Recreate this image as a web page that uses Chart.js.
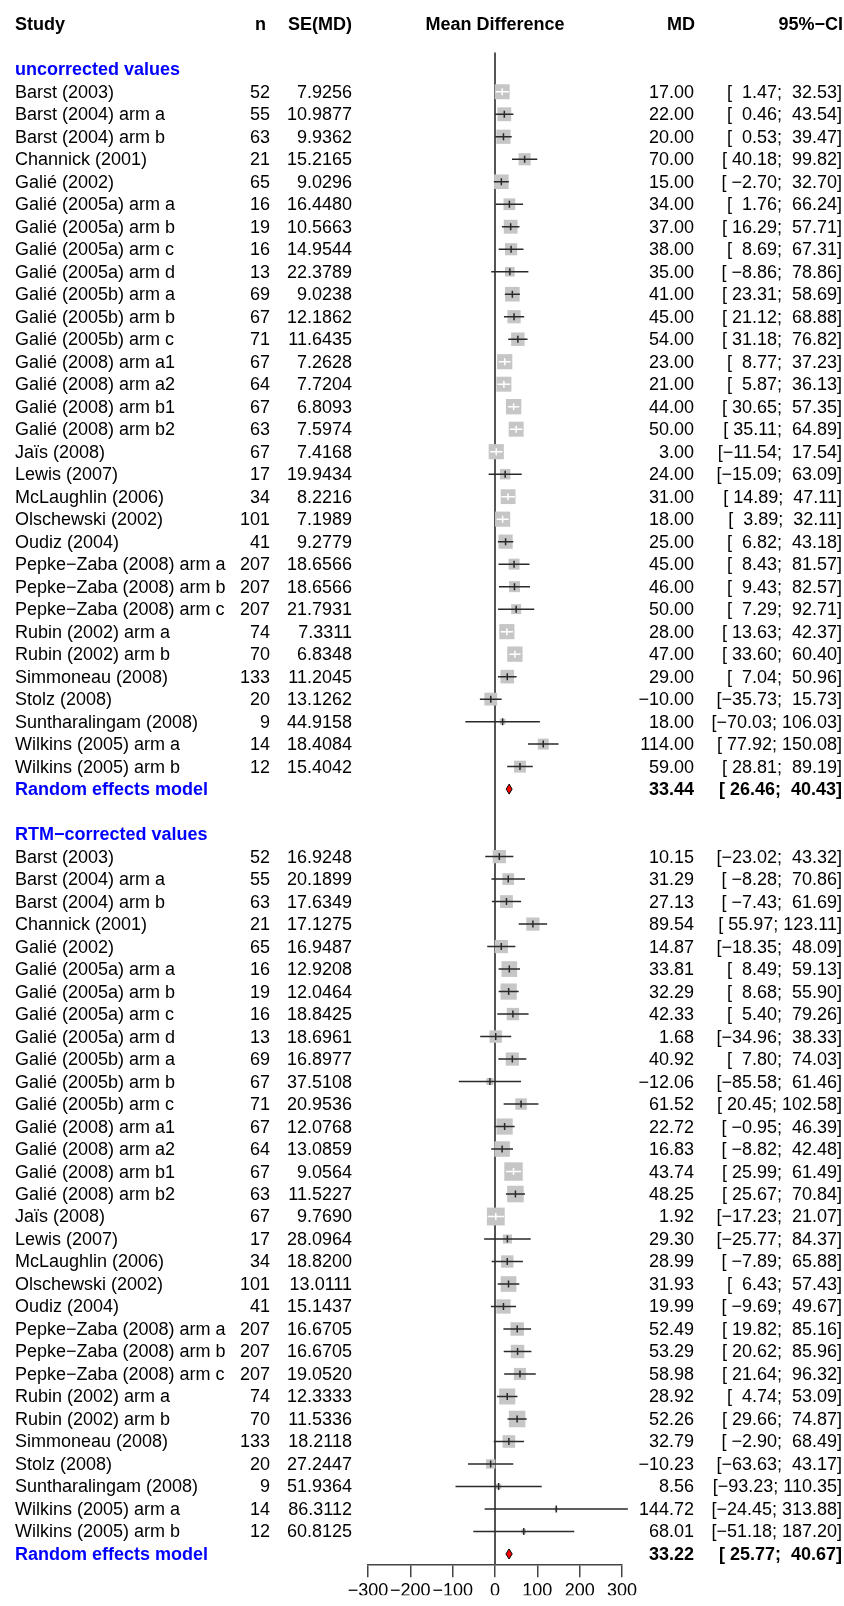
<!DOCTYPE html>
<html>
<head>
<meta charset="utf-8">
<script src="https://cdn.jsdelivr.net/npm/chart.js@4.4.1/dist/chart.umd.min.js"></script>
<style>
  html, body { margin: 0; padding: 0; background: #fff; overflow: hidden; }
  #wrap { width: 844px; height: 1606px; }
  canvas { display: block; }
</style>
</head>
<body>
<div id="wrap"><canvas id="chart" width="844" height="1606"></canvas></div>
<script>
// Forest plot: mean difference per study, uncorrected and RTM-corrected values

const studies = [
  'Barst (2003)', 'Barst (2004) arm a', 'Barst (2004) arm b', 'Channick (2001)',
  'Galié (2002)', 'Galié (2005a) arm a', 'Galié (2005a) arm b', 'Galié (2005a) arm c',
  'Galié (2005a) arm d', 'Galié (2005b) arm a', 'Galié (2005b) arm b', 'Galié (2005b) arm c',
  'Galié (2008) arm a1', 'Galié (2008) arm a2', 'Galié (2008) arm b1', 'Galié (2008) arm b2',
  'Jaïs (2008)', 'Lewis (2007)', 'McLaughlin (2006)', 'Olschewski (2002)', 'Oudiz (2004)',
  'Pepke\u2212Zaba (2008) arm a', 'Pepke\u2212Zaba (2008) arm b', 'Pepke\u2212Zaba (2008) arm c',
  'Rubin (2002) arm a', 'Rubin (2002) arm b', 'Simmoneau (2008)', 'Stolz (2008)',
  'Suntharalingam (2008)', 'Wilkins (2005) arm a', 'Wilkins (2005) arm b'
];
const nPatients = [52, 55, 63, 21, 65, 16, 19, 16, 13, 69, 67, 71, 67, 64, 67, 63, 67, 17, 34, 101, 41,
  207, 207, 207, 74, 70, 133, 20, 9, 14, 12];

// uncorrected values
const seUncorr = [7.9256, 10.9877, 9.9362, 15.2165, 9.0296, 16.4480, 10.5663, 14.9544, 22.3789, 9.0238,
  12.1862, 11.6435, 7.2628, 7.7204, 6.8093, 7.5974, 7.4168, 19.9434, 8.2216, 7.1989, 9.2779,
  18.6566, 18.6566, 21.7931, 7.3311, 6.8348, 11.2045, 13.1262, 44.9158, 18.4084, 15.4042];
const mdUncorr = [17, 22, 20, 70, 15, 34, 37, 38, 35, 41, 45, 54, 23, 21, 44, 50, 3, 24, 31, 18, 25,
  45, 46, 50, 28, 47, 29, -10, 18, 114, 59];
const loUncorr = [1.47, 0.46, 0.53, 40.18, -2.70, 1.76, 16.29, 8.69, -8.86, 23.31, 21.12, 31.18, 8.77, 5.87,
  30.65, 35.11, -11.54, -15.09, 14.89, 3.89, 6.82, 8.43, 9.43, 7.29, 13.63, 33.60, 7.04, -35.73, -70.03, 77.92, 28.81];
const hiUncorr = [32.53, 43.54, 39.47, 99.82, 32.70, 66.24, 57.71, 67.31, 78.86, 58.69, 68.88, 76.82, 37.23, 36.13,
  57.35, 64.89, 17.54, 63.09, 47.11, 32.11, 43.18, 81.57, 82.57, 92.71, 42.37, 60.40, 50.96, 15.73, 106.03, 150.08, 89.19];
const wUncorr = [4.1, 3.5, 3.7, 2.7, 3.9, 2.5, 3.5, 2.7, 1.7, 3.9, 3.2, 3.3, 4.2, 4.1, 4.3, 4.1, 4.2, 2.0, 4.0, 4.2, 3.7,
  2.2, 2.2, 1.8, 4.2, 4.3, 3.4, 3.0, 0.6, 2.2, 2.6];
const pooledUncorr = [33.44, 26.46, 40.43];

// RTM-corrected values
const seCorr = [16.9248, 20.1899, 17.6349, 17.1275, 16.9487, 12.9208, 12.0464, 18.8425, 18.6961, 16.8977,
  37.5108, 20.9536, 12.0768, 13.0859, 9.0564, 11.5227, 9.7690, 28.0964, 18.8200, 13.0111, 15.1437,
  16.6705, 16.6705, 19.0520, 12.3333, 11.5336, 18.2118, 27.2447, 51.9364, 86.3112, 60.8125];
const mdCorr = [10.15, 31.29, 27.13, 89.54, 14.87, 33.81, 32.29, 42.33, 1.68, 40.92, -12.06, 61.52, 22.72, 16.83,
  43.74, 48.25, 1.92, 29.30, 28.99, 31.93, 19.99, 52.49, 53.29, 58.98, 28.92, 52.26, 32.79, -10.23, 8.56, 144.72, 68.01];
const loCorr = [-23.02, -8.28, -7.43, 55.97, -18.35, 8.49, 8.68, 5.40, -34.96, 7.80, -85.58, 20.45, -0.95, -8.82,
  25.99, 25.67, -17.23, -25.77, -7.89, 6.43, -9.69, 19.82, 20.62, 21.64, 4.74, 29.66, -2.90, -63.63, -93.23, -24.45, -51.18];
const hiCorr = [43.32, 70.86, 61.69, 123.11, 48.09, 59.13, 55.90, 79.26, 38.33, 74.03, 61.46, 102.58, 46.39, 42.48,
  61.49, 70.84, 21.07, 84.37, 65.88, 57.43, 49.67, 85.16, 85.96, 96.32, 53.09, 74.87, 68.49, 43.17, 110.35, 313.88, 187.20];
const wCorr = [3.2, 2.5, 3.0, 3.2, 3.2, 4.5, 4.8, 2.8, 2.8, 3.2, 0.9, 2.4, 4.8, 4.4, 6.2, 5.0, 5.8, 1.5, 2.8, 4.5, 3.7,
  3.3, 3.3, 2.7, 4.7, 5.0, 2.9, 1.6, 0.5, 0.2, 0.4];
const pooledCorr = [33.22, 25.77, 40.67];

const xTicks = [-300, -200, -100, 0, 100, 200, 300];

const FONT = '"Liberation Sans", Arial, Helvetica, sans-serif';
const FS = 18;
const BOX_K = 7.4; // square side per sqrt(weight %)

const sections = [
  { title: 'uncorrected values', titleRow: 2, first: 3,
    se: seUncorr, md: mdUncorr, lo: loUncorr, hi: hiUncorr, w: wUncorr, pooled: pooledUncorr },
  { title: 'RTM\u2212corrected values', titleRow: 36, first: 37,
    se: seCorr, md: mdCorr, lo: loCorr, hi: hiCorr, w: wCorr, pooled: pooledCorr }
];

function num(v, d) {
  return v.toFixed(d).replace('-', '\u2212');
}
function ciText(lo, hi) {
  return '[' + num(lo, 2).padStart(6) + '; ' + num(hi, 2).padStart(6) + ']';
}

// square markers for every study
const boxes = [];
sections.forEach(function (s) {
  s.md.forEach(function (v, i) {
    boxes.push({ x: v, y: s.first + i, w: s.w[i] });
  });
});

function boxSide(w) { return BOX_K * Math.sqrt(w); }

const forestPlugin = {
  id: 'forest',
  beforeDatasetsDraw: function (chart) {
    const ctx = chart.ctx, xs = chart.scales.x, ys = chart.scales.y;
    const x0 = xs.getPixelForValue(0);
    ctx.save();
    ctx.strokeStyle = '#555';
    ctx.lineWidth = 2;
    ctx.beginPath();
    ctx.moveTo(x0, ys.getPixelForValue(1.25));
    ctx.lineTo(x0, chart.chartArea.bottom);
    ctx.stroke();
    ctx.restore();
  },
  afterDatasetsDraw: function (chart) {
    const ctx = chart.ctx, xs = chart.scales.x, ys = chart.scales.y;
    ctx.save();

    function text(s, x, y, align, bold, color) {
      ctx.font = (bold ? 'bold ' : '') + FS + 'px ' + FONT;
      ctx.textAlign = align;
      ctx.textBaseline = 'middle';
      ctx.fillStyle = color || '#000';
      ctx.fillText(s, x, y + 1);
    }

    // header
    const hy = ys.getPixelForValue(0);
    text('Study', 15, hy, 'left', true);
    text('n', 266, hy, 'right', true);
    text('SE(MD)', 352, hy, 'right', true);
    text('Mean Difference', (chart.chartArea.left + chart.chartArea.right) / 2, hy, 'center', true);
    text('MD', 695, hy, 'right', true);
    text('95%\u2212CI', 843, hy, 'right', true);

    sections.forEach(function (s) {
      text(s.title, 15, ys.getPixelForValue(s.titleRow), 'left', true, '#0000ff');

      s.md.forEach(function (v, i) {
        const y = ys.getPixelForValue(s.first + i);
        const xl = xs.getPixelForValue(s.lo[i]);
        const xh = xs.getPixelForValue(s.hi[i]);
        const xm = xs.getPixelForValue(v);
        const inside = (xh - xl) <= boxSide(s.w[i]);
        ctx.strokeStyle = inside ? '#ffffff' : '#2a2a2a';
        ctx.lineWidth = 1.5;
        ctx.beginPath();
        ctx.moveTo(xl, y);
        ctx.lineTo(xh, y);
        ctx.moveTo(xm, y - 3.5);
        ctx.lineTo(xm, y + 3.5);
        ctx.stroke();

        text(studies[i], 15, y, 'left', false);
        text(String(nPatients[i]), 270, y, 'right', false);
        text(s.se[i].toFixed(4), 352, y, 'right', false);
        text(num(v, 2), 694, y, 'right', false);
        text(ciText(s.lo[i], s.hi[i]), 842, y, 'right', false);
      });

      // pooled random effects estimate
      const py = ys.getPixelForValue(s.first + s.md.length);
      const pm = xs.getPixelForValue(s.pooled[0]);
      const pl = xs.getPixelForValue(s.pooled[1]);
      const ph = xs.getPixelForValue(s.pooled[2]);
      ctx.beginPath();
      ctx.moveTo(pl, py);
      ctx.lineTo(pm, py - 5);
      ctx.lineTo(ph, py);
      ctx.lineTo(pm, py + 5);
      ctx.closePath();
      ctx.fillStyle = '#ff0000';
      ctx.fill();
      ctx.strokeStyle = '#000';
      ctx.lineWidth = 1;
      ctx.stroke();

      text('Random effects model', 15, py, 'left', true, '#0000ff');
      text(num(s.pooled[0], 2), 694, py, 'right', true);
      text(ciText(s.pooled[1], s.pooled[2]), 842, py, 'right', true);
    });

    ctx.restore();
  }
};

new Chart(document.getElementById('chart'), {
  type: 'scatter',
  data: {
    datasets: [{
      label: 'Studies',
      data: boxes,
      pointStyle: 'rect',
      pointRadius: function (c) { return boxSide(c.raw.w) / Math.SQRT2; },
      backgroundColor: '#c6c6c6',
      borderWidth: 0,
      clip: false
    }]
  },
  options: {
    responsive: false,
    animation: false,
    devicePixelRatio: 1,
    events: [],
    layout: { padding: { left: 368, right: 222, top: 10.1, bottom: 10.8 } },
    plugins: { legend: { display: false }, tooltip: { enabled: false } },
    scales: {
      x: {
        type: 'linear',
        position: 'bottom',
        min: -300,
        max: 300,
        afterBuildTicks: function (scale) {
          scale.ticks = xTicks.map(function (v) { return { value: v }; });
        },
        afterFit: function (scale) { scale.height = 30; },
        ticks: {
          autoSkip: false,
          maxRotation: 0,
          minRotation: 0,
          padding: 3,
          color: '#000',
          font: { family: FONT, size: FS },
          callback: function (v) { return v < 0 ? '\u2212' + Math.abs(v) : String(v); }
        },
        grid: { drawOnChartArea: false, drawTicks: true, tickLength: 12, color: '#444', lineWidth: 1.5 },
        border: { display: true, color: '#444', width: 1.5 }
      },
      y: {
        type: 'linear',
        display: false,
        reverse: true,
        min: -0.5,
        max: 68.5
      }
    }
  },
  plugins: [forestPlugin]
});
</script>
</body>
</html>
